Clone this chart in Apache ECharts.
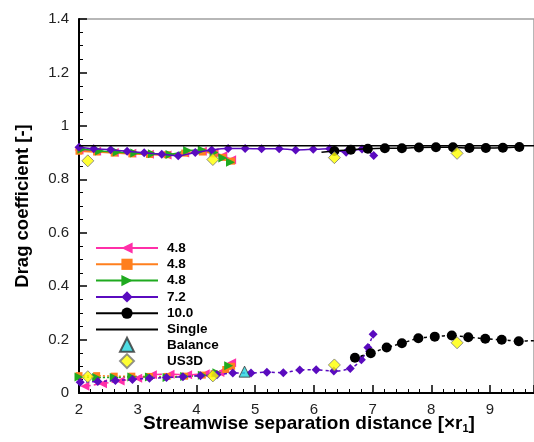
<!DOCTYPE html>
<html><head><meta charset="utf-8">
<script src="https://cdn.jsdelivr.net/npm/echarts@6/dist/echarts.min.js"></script>
<style>html,body{margin:0;padding:0;background:#fff}#c{width:534px;height:442px}</style>
</head><body><div id="c"></div>
<script>
// ---- data ----
const legendLineNames = ['4.8', '4.8 ', '4.8  ', '7.2', '10.0', 'Single'];
const legendMarkNames = ['Balance', 'US3D'];
const pinkUpper   = [[2.0,0.910],[2.3,0.905],[2.6,0.900],[2.9,0.897],[3.2,0.894],[3.5,0.891],[3.8,0.898],[4.1,0.905],[4.3,0.900],[4.45,0.888],[4.6,0.873]];
const orangeUpper = [[2.0,0.905],[2.3,0.902],[2.6,0.898],[2.9,0.895],[3.2,0.893],[3.5,0.892],[3.8,0.898],[4.1,0.902],[4.3,0.895],[4.45,0.882],[4.6,0.868]];
const greenUpper  = [[2.05,0.912],[2.35,0.906],[2.65,0.902],[2.95,0.898],[3.25,0.896],[3.55,0.893],[3.85,0.908],[4.1,0.910],[4.3,0.900],[4.45,0.880],[4.58,0.864]];
const pinkLower   = [[2.1,0.025],[2.4,0.035],[2.7,0.045],[3.0,0.055],[3.25,0.068],[3.55,0.070],[3.85,0.068],[4.15,0.072],[4.4,0.077],[4.55,0.098],[4.6,0.113]];
const orangeLower = [[2.0,0.065],[2.3,0.065],[2.6,0.063],[2.9,0.063],[3.2,0.062],[3.5,0.062],[3.8,0.063],[4.1,0.067],[4.3,0.072],[4.5,0.088],[4.6,0.100]];
const greenLower  = [[2.0,0.060],[2.3,0.058],[2.6,0.058],[2.9,0.060],[3.2,0.060],[3.5,0.058],[3.8,0.062],[4.1,0.066],[4.35,0.076],[4.55,0.102]];
const purpleUpper = [[2.0,0.920],[2.25,0.914],[2.54,0.911],[2.82,0.905],[3.11,0.899],[3.41,0.894],[3.69,0.888],[3.98,0.900],[4.26,0.910],[4.54,0.915],[4.83,0.915],[5.11,0.914],[5.41,0.914],[5.69,0.910],[5.99,0.912],[6.27,0.914],[6.55,0.901],[6.82,0.913],[7.02,0.889]];
const purpleLower = [[2.02,0.040],[2.32,0.043],[2.62,0.047],[2.91,0.051],[3.2,0.055],[3.49,0.058],[3.77,0.061],[4.07,0.065],[4.35,0.068],[4.62,0.075],[4.93,0.075],[5.2,0.078],[5.48,0.076],[5.76,0.086],[6.04,0.087],[6.34,0.082],[6.62,0.092],[6.81,0.124],[6.92,0.170],[7.01,0.220]];
const blackUpperLead = [[6.13,0.901],[6.35,0.906]];
const blackUpper  = [[6.35,0.906],[6.63,0.911],[6.92,0.914],[7.21,0.916],[7.5,0.916],[7.79,0.919],[8.08,0.920],[8.37,0.920],[8.65,0.917],[8.93,0.917],[9.22,0.918],[9.5,0.921]];
const blackLower  = [[6.70,0.132],[6.97,0.149],[7.24,0.170],[7.50,0.186],[7.78,0.205],[8.06,0.211],[8.35,0.215],[8.63,0.209],[8.92,0.203],[9.20,0.199],[9.49,0.194]];
const blackLowerTail = [[9.49,0.194],[9.75,0.196]];
const singleValue = 0.926;
const balance = [[4.82,0.080]];
const us3d = [[2.15,0.869],[4.28,0.874],[6.35,0.881],[8.44,0.897],[2.15,0.061],[4.28,0.064],[6.35,0.105],[8.44,0.188]];
const xMin = 2, xMax = 9.75, yMin = 0, yMax = 1.4;

// ---- styles ----
const C = {pink:'#ff2fa8', orange:'#ff7f1e', green:'#1faa1f', purple:'#5a0bbf', black:'#000000'};
const FONT = '"Liberation Sans", Arial, sans-serif';

function lineSeries(name, data, color, symbol, size, rotate, dashed, z) {
  return {
    name: name, type: 'line', data: data, smooth: 0.3,
    symbol: symbol, symbolSize: size, symbolRotate: rotate || 0,
    showSymbol: symbol !== 'none',
    lineStyle: {color: color, width: 1.5, type: dashed || 'solid'},
    itemStyle: {color: color},
    z: z, animation: false, silent: true
  };
}

const series = [
  lineSeries('4.8', pinkUpper, C.pink, 'triangle', 9, 90, null, 2),
  lineSeries('4.8 ', orangeUpper, C.orange, 'rect', 7, 0, null, 2),
  lineSeries('4.8  ', greenUpper, C.green, 'triangle', 9, -90, null, 2),
  lineSeries('4.8 lower a', pinkLower, C.pink, 'triangle', 9, 90, [6,3], 2),
  lineSeries('4.8 lower b', orangeLower, C.orange, 'rect', 7, 0, [2,2], 2),
  lineSeries('4.8 lower c', greenLower, C.green, 'triangle', 9, -90, [2,2], 2),
  lineSeries('7.2', purpleUpper, C.purple, 'diamond', 9, 0, null, 3),
  lineSeries('7.2 lower', purpleLower, C.purple, 'diamond', 9, 0, [3,3], 3),
  lineSeries('10.0', blackUpper, C.black, 'circle', 10, 0, null, 4),
  lineSeries('10.0 lead', blackUpperLead, C.black, 'none', 0, 0, null, 4),
  lineSeries('10.0 lower', blackLower, C.black, 'circle', 10, 0, [3,3], 4),
  lineSeries('10.0 tail', blackLowerTail, C.black, 'none', 0, 0, [3,3], 4),
  {name:'Single', type:'line', data:[[xMin,singleValue],[xMax,singleValue]], symbol:'none',
   lineStyle:{color:'#000', width:1.5}, itemStyle:{color:'rgba(0,0,0,0)'}, z:5, animation:false, silent:true},
  {name:'Balance', type:'scatter', data: balance, symbol:'triangle', symbolSize: 11,
   itemStyle:{color:'#22d3dc', borderColor:'#333', borderWidth:1}, z:6, animation:false, silent:true},
  {name:'US3D', type:'scatter', data: us3d, symbol:'diamond', symbolSize: 12,
   itemStyle:{color:'#ffff00', borderColor:'#777', borderWidth:1}, z:6, animation:false, silent:true}
];

const legendText = {color: '#000', fontSize: 13.5, fontWeight: 'bold', fontFamily: FONT, lineHeight: 16};

const chart = echarts.init(document.getElementById('c'), null, {renderer:'canvas'});
chart.setOption({
  animation: false,
  backgroundColor: '#fff',
  grid: {left: 79, top: 19, right: -3, bottom: 49, show: true, borderColor: '#a0a0a0', borderWidth: 1.5},
  xAxis: {
    type: 'value', min: xMin, max: xMax, interval: 1,
    axisLine: {show: true, lineStyle: {color: '#000', width: 2}},
    axisTick: {show: true, inside: true, length: 8, lineStyle: {color: '#000', width: 1.5}},
    minorTick: {show: true, splitNumber: 5, length: 4, lineStyle: {color: '#000', width: 1}},
    axisLabel: {color: '#222', fontSize: 15, fontFamily: FONT, margin: 9, showMaxLabel: false},
    splitLine: {show: false}
  },
  yAxis: {
    type: 'value', min: yMin, max: yMax, interval: 0.2,
    axisLine: {show: true, lineStyle: {color: '#000', width: 2}},
    axisTick: {show: true, inside: true, length: 8, lineStyle: {color: '#000', width: 1.5}},
    minorTick: {show: true, splitNumber: 4, length: 4, lineStyle: {color: '#000', width: 1}},
    axisLabel: {color: '#222', fontSize: 15, fontFamily: FONT, margin: 10},
    splitLine: {show: false}
  },
  legend: [
    {data: legendLineNames, orient: 'vertical', left: 95, top: 240, padding: 0,
     itemWidth: 62, itemHeight: 14, itemGap: 0.3,
     textStyle: Object.assign({}, legendText, {padding: [0,0,0,4]}), selectedMode: false},
    {data: legendMarkNames, orient: 'vertical', left: 119, top: 336.8, padding: 0,
     itemWidth: 14, itemHeight: 14, itemGap: 0.3,
     textStyle: Object.assign({}, legendText, {padding: [0,0,0,28]}), selectedMode: false}
  ],
  graphic: [
    {type: 'text', x: 23, y: 206, rotation: Math.PI/2,
     style: {text: 'Drag coefficient [-]', fill: '#000', font: 'bold 18.5px ' + FONT, align: 'center', verticalAlign: 'middle'}},
    {type: 'text', x: 309, y: 424,
     style: {text: '{a|Streamwise separation distance [×r}{s|1}{a|]}', align: 'center', verticalAlign: 'middle',
       rich: {a: {fill: '#000', fontSize: 19, fontWeight: 'bold', fontFamily: FONT},
              s: {fill: '#000', fontSize: 11, fontWeight: 'bold', fontFamily: FONT, padding: [10,0,0,0]}}}}
  ],
  series: series
});
</script></body></html>
